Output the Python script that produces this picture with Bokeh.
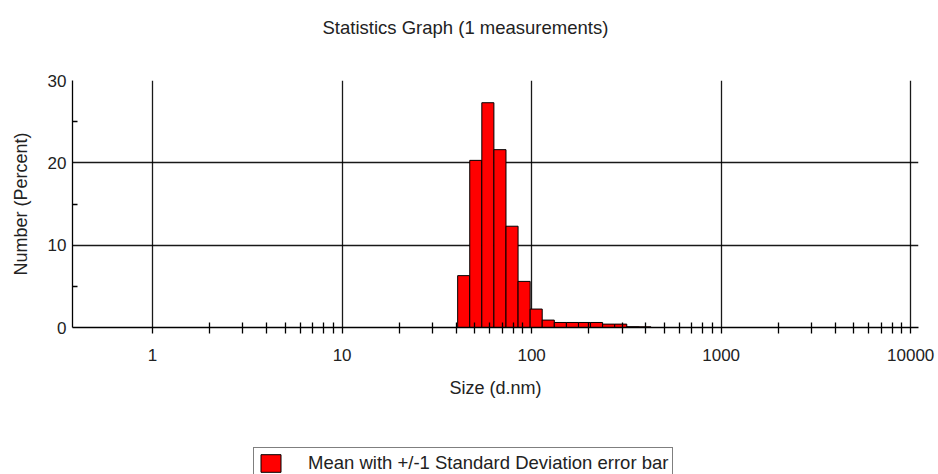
from bokeh.plotting import figure
from bokeh.models import (Range1d, FixedTicker, Legend, LegendItem, Title)
from bokeh.layouts import column
from bokeh.embed import file_html
from bokeh.resources import INLINE

# ---- data ----
size_bins = [43.82, 50.75, 58.77, 68.06, 78.82, 91.28, 105.7, 122.4, 141.8,
             164.2, 190.1, 220.2, 255.0, 295.3, 342.0, 396.1]
number_pct = [6.3, 20.3, 27.3, 21.6, 12.3, 5.6, 2.24, 0.9, 0.61,
              0.61, 0.61, 0.61, 0.41, 0.41, 0.1, 0.08]
x_tick_values = [1, 10, 100, 1000, 10000]
x_tick_labels = ["1", "10", "100", "1000", "10000"]
y_tick_values = [0, 10, 20, 30]

title_text = "Statistics Graph (1 measurements)"
x_label = "Size (d.nm)"
y_label = "Number (Percent)"
legend_text = "Mean with +/-1 Standard Deviation error bar"

# bin edges = geometric midpoints between bin centres
lefts, rights = [], []
n = len(size_bins)
for i, s in enumerate(size_bins):
    if i > 0:
        lo = (size_bins[i - 1] * s) ** 0.5
    else:
        lo = s / (size_bins[1] / s) ** 0.5
    if i < n - 1:
        hi = (size_bins[i + 1] * s) ** 0.5
    else:
        hi = s * (s / size_bins[i - 1]) ** 0.5
    lefts.append(lo)
    rights.append(hi)

FONT = "Liberation Sans"
TXT = "#222222"
BAR_FILL = "#ff0000"

p = figure(width=938, height=444, x_axis_type="log",
           x_range=Range1d(0.378, 11000), y_range=Range1d(0, 30),
           output_backend="svg", toolbar_location=None,
           min_border_left=72, min_border_right=20,
           min_border_top=80, min_border_bottom=117)
p.outline_line_color = None
p.background_fill_color = "white"
p.border_fill_color = "white"

# spacer nearest the frame, then the real title above it
p.add_layout(Title(text=" ", text_font_size="10px", standoff=25), "above")
p.add_layout(Title(text=title_text, align="left", text_font=FONT,
                   text_font_size="18.5px", text_font_style="normal",
                   text_color=TXT, standoff=10, offset=250), "above")

r = p.quad(left=lefts, right=rights, bottom=0, top=number_pct,
           fill_color=BAR_FILL, line_color="black", line_width=1)

# x axis
minor_x = []
for dec in [1, 10, 100, 1000]:
    for k in range(2, 10):
        minor_x.append(dec * k)
xa = p.xaxis[0]
xa.ticker = FixedTicker(ticks=x_tick_values, minor_ticks=minor_x)
xa.major_label_overrides = {v: l for v, l in zip(x_tick_values, x_tick_labels)}
xa.axis_line_color = "black"
xa.axis_line_width = 1.3
xa.major_tick_line_color = "black"
xa.minor_tick_line_color = "black"
xa.major_tick_line_width = 1.3
xa.minor_tick_line_width = 1.3
xa.major_tick_in = 0
xa.major_tick_out = 6
xa.minor_tick_in = 5
xa.minor_tick_out = 6
xa.major_label_standoff = 15
xa.major_label_text_font = FONT
xa.major_label_text_font_size = "17px"
xa.major_label_text_color = TXT
xa.axis_label = x_label
xa.axis_label_text_font = FONT
xa.axis_label_text_font_size = "18px"
xa.axis_label_text_font_style = "normal"
xa.axis_label_text_color = TXT
xa.axis_label_standoff = 14

# y axis
ya = p.yaxis[0]
ya.ticker = FixedTicker(ticks=y_tick_values, minor_ticks=[5, 15, 25])
ya.axis_line_color = "black"
ya.axis_line_width = 1.3
ya.major_tick_in = 0
ya.major_tick_out = 0
ya.minor_tick_in = 5
ya.minor_tick_out = 0
ya.minor_tick_line_color = "black"
ya.minor_tick_line_width = 1.3
ya.major_label_standoff = 6
ya.major_label_text_font = FONT
ya.major_label_text_font_size = "17px"
ya.major_label_text_color = TXT
ya.axis_label = y_label
ya.axis_label_text_font = FONT
ya.axis_label_text_font_size = "18px"
ya.axis_label_text_font_style = "normal"
ya.axis_label_text_color = TXT
ya.axis_label_standoff = 14

# grids
p.xgrid.ticker = FixedTicker(ticks=x_tick_values)
p.ygrid.ticker = FixedTicker(ticks=y_tick_values)
for g in (p.xgrid[0], p.ygrid[0]):
    g.grid_line_color = "black"
    g.grid_line_width = 1.3
    g.grid_line_alpha = 0.9

# legend strip below the chart
p2 = figure(width=938, height=30, output_backend="svg", toolbar_location=None,
            min_border=0, x_range=Range1d(0, 1), y_range=Range1d(0, 1))
p2.outline_line_color = None
p2.axis.visible = False
p2.grid.visible = False
p2.background_fill_color = "white"
p2.border_fill_color = "white"
# hidden proxy glyph (outside the visible range) that only feeds the legend swatch
dummy = p2.quad(left=[5], right=[6], bottom=[5], top=[6],
                fill_color=BAR_FILL, line_color="black", line_width=1)
legend = Legend(items=[LegendItem(label=legend_text, renderers=[dummy])],
                location=(181, -5), orientation="horizontal",
                glyph_width=25, glyph_height=22, label_standoff=25,
                padding=4, margin=0, spacing=0,
                border_line_color="black", border_line_width=1,
                background_fill_color="white",
                label_text_font=FONT, label_text_font_size="18.5px",
                label_text_color=TXT)
p2.add_layout(legend, "center")

layout = column(p, p2, spacing=0)
open("out.html", "w").write(file_html(layout, INLINE))
